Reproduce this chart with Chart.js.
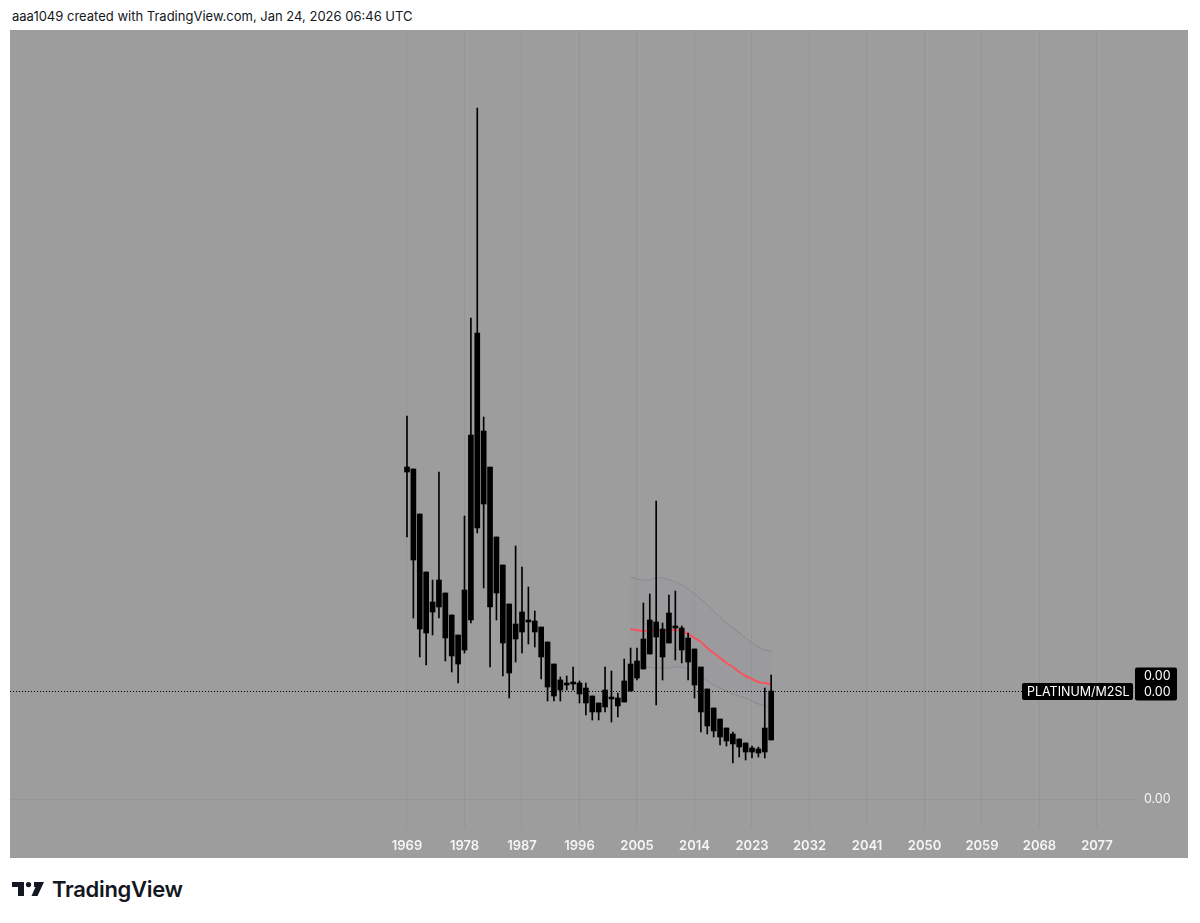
<!DOCTYPE html>
<html>
<head>
<meta charset="utf-8">
<script src="https://cdn.jsdelivr.net/npm/chart.js@4.4.1/dist/chart.umd.min.js"></script>
<style>
  body { margin: 0; background: #fff; width: 1200px; height: 923px; position: relative; overflow: hidden; font-family: Inter, "Noto Sans", sans-serif; }
  #title { position: absolute; left: 12px; top: 8px; font-size: 13px; color: #131722; white-space: nowrap; }
  #pane { position: absolute; left: 10px; top: 30px; width: 1178px; height: 828px; background: #9d9d9d; }
  #logo { position: absolute; left: 12px; top: 882px; }
  #brand { position: absolute; left: 52px; top: 875px; font-size: 22px; font-weight: 600; color: #131722; letter-spacing: -0.3px; line-height: 28px; }
</style>
</head>
<body>
<div id="title">aaa1049 created with TradingView.com, Jan 24, 2026 06:46 UTC</div>
<div id="pane"><canvas id="chart"></canvas></div>
<svg id="logo" width="34" height="15" viewBox="0 0 34 15">
  <rect x="0" y="0" width="12" height="5" fill="#131722"/>
  <rect x="6" y="0" width="6" height="14" fill="#131722"/>
  <circle cx="16.5" cy="2.6" r="2.6" fill="#131722"/>
  <polygon points="22,0 32,0 25.5,14 19.5,14 23.5,5 22,5" fill="#131722"/>
</svg>
<div id="brand">TradingView</div>
<script>
// Yearly candles, PLATINUM/M2SL
// the ratio is tiny, so the lists below are in hundredths of it
var valueScale = 0.01;
var years = [1969, 1970, 1971, 1972, 1973, 1974, 1975, 1976, 1977, 1978,
  1979, 1980, 1981, 1982, 1983, 1984, 1985, 1986, 1987, 1988,
  1989, 1990, 1991, 1992, 1993, 1994, 1995, 1996, 1997, 1998,
  1999, 2000, 2001, 2002, 2003, 2004, 2005, 2006, 2007, 2008,
  2009, 2010, 2011, 2012, 2013, 2014, 2015, 2016, 2017, 2018,
  2019, 2020, 2021, 2022, 2023, 2024, 2025, 2026];
var opens = [0.327, 0.330, 0.285, 0.227, 0.187, 0.192, 0.206, 0.184, 0.164, 0.149,
  0.179, 0.466, 0.368, 0.332, 0.262, 0.234, 0.195, 0.160, 0.167, 0.179,
  0.178, 0.172, 0.157, 0.135, 0.119, 0.116, 0.115, 0.116, 0.111, 0.103,
  0.096, 0.092, 0.102, 0.101, 0.097, 0.108, 0.121, 0.130, 0.145, 0.177,
  0.142, 0.156, 0.172, 0.171, 0.161, 0.150, 0.132, 0.110, 0.091, 0.080,
  0.071, 0.065, 0.060, 0.056, 0.051, 0.050, 0.047, 0.059];
var highs = [0.383, 0.330, 0.285, 0.227, 0.219, 0.327, 0.206, 0.184, 0.164, 0.283,
  0.481, 0.691, 0.382, 0.332, 0.262, 0.234, 0.195, 0.253, 0.232, 0.212,
  0.188, 0.172, 0.157, 0.135, 0.122, 0.123, 0.132, 0.118, 0.116, 0.103,
  0.096, 0.132, 0.128, 0.106, 0.140, 0.151, 0.151, 0.196, 0.205, 0.298,
  0.176, 0.204, 0.208, 0.173, 0.166, 0.150, 0.132, 0.110, 0.091, 0.080,
  0.071, 0.067, 0.060, 0.056, 0.053, 0.052, 0.111, 0.124];
var lows = [0.262, 0.181, 0.142, 0.134, 0.164, 0.181, 0.138, 0.127, 0.116, 0.146,
  0.176, 0.266, 0.211, 0.132, 0.179, 0.123, 0.101, 0.137, 0.146, 0.155,
  0.152, 0.120, 0.098, 0.098, 0.098, 0.109, 0.109, 0.096, 0.084, 0.079,
  0.079, 0.087, 0.077, 0.082, 0.097, 0.108, 0.119, 0.130, 0.145, 0.094,
  0.119, 0.156, 0.139, 0.136, 0.119, 0.101, 0.067, 0.065, 0.062, 0.054,
  0.053, 0.036, 0.042, 0.039, 0.041, 0.042, 0.041, 0.059];
var closes = [0.332, 0.239, 0.170, 0.166, 0.197, 0.219, 0.161, 0.143, 0.135, 0.209,
  0.364, 0.271, 0.295, 0.192, 0.206, 0.156, 0.126, 0.175, 0.187, 0.177,
  0.167, 0.142, 0.112, 0.103, 0.109, 0.114, 0.117, 0.105, 0.096, 0.087,
  0.087, 0.109, 0.100, 0.093, 0.118, 0.135, 0.138, 0.160, 0.179, 0.162,
  0.170, 0.186, 0.171, 0.149, 0.137, 0.114, 0.087, 0.073, 0.068, 0.062,
  0.058, 0.055, 0.052, 0.047, 0.047, 0.046, 0.071, 0.108];

// Bollinger-style band: basis and envelope
var bandYears = [2004, 2005, 2006, 2007, 2008, 2009, 2010, 2011, 2012, 2013, 2014, 2015,
  2016, 2017, 2018, 2019, 2020, 2021, 2022, 2023, 2024, 2025, 2026];
var basis = [0.170, 0.169, 0.168, 0.168, 0.168, 0.168, 0.169, 0.169, 0.168, 0.165, 0.161, 0.157,
  0.151, 0.146, 0.141, 0.136, 0.132, 0.127, 0.123, 0.120, 0.117, 0.116, 0.115];
var upperBand = [0.222, 0.220, 0.219, 0.219, 0.221, 0.221, 0.219, 0.217, 0.214, 0.210, 0.205, 0.200,
  0.194, 0.188, 0.182, 0.176, 0.171, 0.166, 0.161, 0.156, 0.152, 0.149, 0.148];
var lowerBand = [0.135, 0.134, 0.133, 0.132, 0.131, 0.131, 0.131, 0.132, 0.132, 0.130, 0.127, 0.123,
  0.118, 0.114, 0.111, 0.108, 0.105, 0.103, 0.101, 0.098, 0.095, 0.093, 0.091];

var tickYears = [1969, 1978, 1987, 1996, 2005, 2014, 2023, 2032, 2041, 2050, 2059, 2068, 2077];
var priceTicks = [0];
var seriesName = 'PLATINUM/M2SL';

function sc(v) { return v * valueScale; }
var bodyData = years.map(function (yr, i) { return { x: yr, y: [sc(opens[i]), sc(closes[i])] }; });
var wickData = years.map(function (yr, i) { return { x: yr, y: [sc(lows[i]), sc(highs[i])] }; });
function pts(vals) { return bandYears.map(function (yr, i) { return { x: yr, y: sc(vals[i]) }; }); }

// dotted last-price line and the black price labels on the right
var priceLabels = {
  id: 'priceLabels',
  afterDraw: function (chart) {
    var ctx = chart.ctx, area = chart.chartArea, y = chart.scales.y;
    var last = sc(closes[closes.length - 1]);
    var py = Math.round(y.getPixelForValue(last)) + 0.5;
    var boxLeft = area.right - 113;
    ctx.save();
    ctx.strokeStyle = '#000';
    ctx.lineWidth = 1;
    ctx.setLineDash([1, 2]);
    ctx.beginPath();
    ctx.moveTo(area.left, py);
    ctx.lineTo(boxLeft, py);
    ctx.stroke();
    ctx.setLineDash([]);

    ctx.fillStyle = '#000';
    ctx.beginPath();
    ctx.roundRect(boxLeft, py - 8.5, 111, 17, 2);
    ctx.fill();
    ctx.beginPath();
    ctx.roundRect(area.right, py - 24, 42, 33, 2);
    ctx.fill();

    ctx.fillStyle = '#fff';
    ctx.font = '12.5px Inter, sans-serif';
    ctx.textBaseline = 'middle';
    ctx.textAlign = 'left';
    ctx.fillText(seriesName, boxLeft + 5, py + 0.5);
    ctx.fillText(last.toFixed(2), area.right + 9, py + 0.5);
    ctx.fillText(sc(basis[basis.length - 1]).toFixed(2), area.right + 9, py - 15.5);
    ctx.restore();
  }
};

function noPad(s) { s.paddingTop = 0; s.paddingBottom = 0; s.paddingLeft = 0; s.paddingRight = 0; }

var chart = new Chart(document.getElementById('chart'), {
  type: 'bar',
  data: {
    datasets: [
      { type: 'bar', data: bodyData, backgroundColor: '#000', barThickness: 5, grouped: false, minBarLength: 2, order: 0 },
      { type: 'bar', data: wickData, backgroundColor: '#000', barThickness: 1, grouped: false, order: 1 },
      { type: 'line', data: pts(basis), borderColor: '#f7525f', borderWidth: 2, pointRadius: 0, tension: 0.4, order: 2 },
      { type: 'line', data: pts(upperBand), borderColor: 'rgba(120,123,134,0.55)', borderWidth: 1, pointRadius: 0, tension: 0.4, order: 3 },
      { type: 'line', data: pts(lowerBand), borderColor: 'rgba(120,123,134,0.55)', borderWidth: 1, pointRadius: 0, tension: 0.4,
        fill: '-1', backgroundColor: 'rgba(150,150,160,0.18)', order: 4 }
    ]
  },
  options: {
    responsive: true,
    maintainAspectRatio: false,
    animation: false,
    layout: { padding: 0 },
    plugins: { legend: { display: false }, tooltip: { enabled: false } },
    scales: {
      x: {
        type: 'linear',
        min: 1906.861,
        max: 2082.948,
        offset: false,
        afterBuildTicks: function (s) { s.ticks = tickYears.map(function (v) { return { value: v }; }); },
        afterFit: function (s) { s.height = 30; noPad(s); },
        grid: { color: 'rgba(0,0,0,0.05)', tickLength: 0, offset: false },
        border: { display: false },
        ticks: {
          color: '#f5f5f5',
          font: { family: 'Inter', size: 13, weight: '600' },
          padding: 10,
          maxRotation: 0,
          autoSkip: false,
          callback: function (v) { return String(v); }
        }
      },
      y: {
        position: 'right',
        min: sc(-0.029),
        max: sc(0.769),
        afterBuildTicks: function (s) { s.ticks = priceTicks.map(function (v) { return { value: sc(v) }; }); },
        afterFit: function (s) { s.width = 53; noPad(s); },
        grid: { color: 'rgba(0,0,0,0.05)', tickLength: 0 },
        border: { display: false },
        ticks: {
          color: '#f5f5f5',
          font: { family: 'Inter', size: 12.5 },
          padding: 9,
          callback: function (v) { return v.toFixed(2); }
        }
      }
    }
  },
  plugins: [priceLabels]
});
</script>
</body>
</html>
